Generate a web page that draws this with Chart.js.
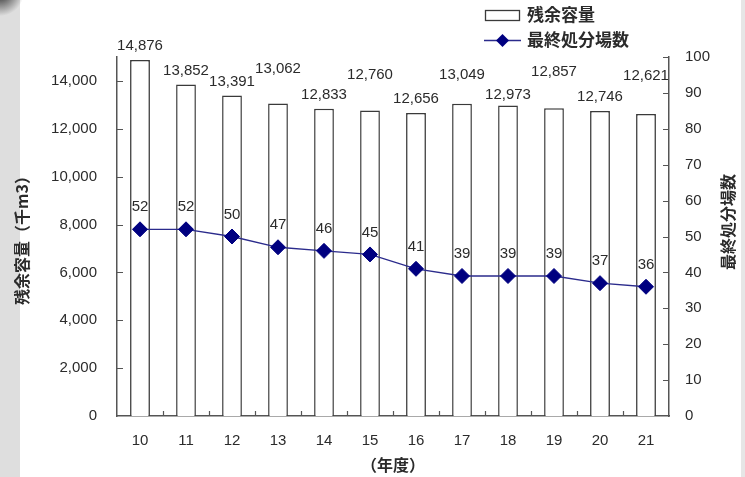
<!DOCTYPE html>
<html>
<head>
<meta charset="utf-8">
<script src="https://cdn.jsdelivr.net/npm/chart.js@4.4.0/dist/chart.umd.min.js"></script>
<style>
  html, body { margin: 0; padding: 0; background: #fff; }
  #wrap { position: relative; width: 745px; height: 477px; }
</style>
</head>
<body>
<div id="wrap"><canvas id="c" width="745" height="477"></canvas></div>
<script>
// 年度 (fiscal years)
const years = ['10', '11', '12', '13', '14', '15', '16', '17', '18', '19', '20', '21'];
// 残余容量 (千m3)
const remainingCapacity = [14876, 13852, 13391, 13062, 12833, 12760, 12656, 13049, 12973, 12857, 12746, 12621];
// 最終処分場数
const landfillCount = [52, 52, 50, 47, 46, 45, 41, 39, 39, 39, 37, 36];
// axis tick values
const capacityTicks = [0, 2000, 4000, 6000, 8000, 10000, 12000, 14000];
const countTicks = [0, 10, 20, 30, 40, 50, 60, 70, 80, 90, 100];
// extra lift (px) for staggered bar value labels
const barLabelRaise = [0, 0, 0, 21, 0, 22, 0, 15, -3, 22, 0, 24];

const TEXT = '#2b2b2b';
const AXIS = '#555';
const NUM_FONT = '15px "Liberation Sans", Arial, sans-serif';
const JP_FONT = 'bold 16px "Noto Sans CJK JP", sans-serif';

const fmt = v => v.toLocaleString('en-US');

const decor = {
  id: 'decor',
  beforeDraw(chart) {
    const ctx = chart.ctx;
    ctx.save();
    ctx.fillStyle = '#fff';
    ctx.fillRect(0, 0, chart.width, chart.height);
    // grey page margins
    ctx.fillStyle = '#dedede';
    ctx.fillRect(0, 0, 20, chart.height);
    ctx.fillStyle = '#e6e6e6';
    ctx.fillRect(741, 0, 4, chart.height);
    const g = ctx.createRadialGradient(0, -8, 2, 0, -8, 24);
    g.addColorStop(0, 'rgba(40,40,40,0.95)');
    g.addColorStop(1, 'rgba(40,40,40,0)');
    ctx.fillStyle = g;
    ctx.fillRect(0, 0, 30, 20);
    ctx.restore();
  },
  afterDatasetsDraw(chart) {
    const ctx = chart.ctx;
    const x = chart.scales.x, yl = chart.scales.y, yr = chart.scales.y1;
    const area = chart.chartArea;
    ctx.save();

    // inward tick marks
    ctx.strokeStyle = AXIS;
    ctx.lineWidth = 1.2;
    ctx.beginPath();
    capacityTicks.forEach(v => {
      if (v === 0) return;
      const py = Math.round(yl.getPixelForValue(v)) + 0.5;
      ctx.moveTo(area.left, py); ctx.lineTo(area.left + 6, py);
    });
    countTicks.forEach(v => {
      if (v === 0) return;
      const py = Math.round(yr.getPixelForValue(v)) + 0.5;
      ctx.moveTo(area.right, py); ctx.lineTo(area.right - 6, py);
    });
    for (let i = 0; i < years.length - 1; i++) {
      const px = Math.round((x.getPixelForValue(i) + x.getPixelForValue(i + 1)) / 2) + 0.5;
      ctx.moveTo(px, area.bottom); ctx.lineTo(px, area.bottom - 5);
    }
    ctx.stroke();

    // value labels
    ctx.fillStyle = TEXT;
    ctx.font = NUM_FONT;
    ctx.textAlign = 'center';
    ctx.textBaseline = 'middle';
    const barMeta = chart.getDatasetMeta(1);
    barMeta.data.forEach((bar, i) => {
      ctx.fillText(fmt(remainingCapacity[i]), bar.x, bar.y - 14 - barLabelRaise[i]);
    });
    const lineMeta = chart.getDatasetMeta(0);
    lineMeta.data.forEach((pt, i) => {
      ctx.fillText(String(landfillCount[i]), pt.x, pt.y - 22);
    });

    // axis titles
    ctx.font = JP_FONT;
    ctx.fillStyle = TEXT;
    ctx.save();
    ctx.translate(22, (area.top + area.bottom) / 2);
    ctx.rotate(-Math.PI / 2);
    ctx.fillText('残余容量（千m3）', 0, 0);
    ctx.restore();
    ctx.save();
    ctx.translate(728, 222);
    ctx.rotate(-Math.PI / 2);
    ctx.fillText(chart.data.datasets[0].label, 0, 0);
    ctx.restore();
    ctx.fillText('（年度）', (area.left + area.right) / 2, 465);

    // legend
    const bs = chart.data.datasets[1];
    const ls = chart.data.datasets[0];
    ctx.fillStyle = '#fff';
    ctx.strokeStyle = bs.borderColor;
    ctx.lineWidth = 1.3;
    ctx.fillRect(485, 10, 34, 10);
    ctx.strokeRect(485.5, 10.5, 34, 10);
    ctx.strokeStyle = ls.borderColor;
    ctx.lineWidth = 1.3;
    ctx.beginPath();
    ctx.moveTo(484, 40.5); ctx.lineTo(521, 40.5);
    ctx.stroke();
    ctx.fillStyle = ls.pointBackgroundColor;
    ctx.beginPath();
    ctx.moveTo(502.5, 34); ctx.lineTo(509, 40.5); ctx.lineTo(502.5, 47); ctx.lineTo(496, 40.5);
    ctx.closePath();
    ctx.fill();
    ctx.font = 'bold 17px "Noto Sans CJK JP", sans-serif';
    ctx.fillStyle = TEXT;
    ctx.textAlign = 'left';
    ctx.fillText(bs.label, 527, 15);
    ctx.fillText(ls.label, 527, 40);

    ctx.restore();
  }
};

new Chart(document.getElementById('c'), {
  data: {
    labels: years,
    datasets: [
      {
        type: 'line',
        label: '最終処分場数',
        data: landfillCount,
        yAxisID: 'y1',
        order: 0,
        borderColor: '#2b2b8c',
        borderWidth: 1.3,
        pointStyle: 'rectRot',
        pointRadius: 7.5,
        pointHoverRadius: 7.5,
        pointBackgroundColor: '#000080',
        pointBorderColor: '#000080',
        pointBorderWidth: 1,
        tension: 0
      },
      {
        type: 'bar',
        label: '残余容量',
        data: remainingCapacity,
        yAxisID: 'y',
        order: 1,
        backgroundColor: '#ffffff',
        borderColor: '#3a3a3a',
        borderWidth: 1.5,
        barPercentage: 0.43,
        categoryPercentage: 1.0
      }
    ]
  },
  options: {
    responsive: false,
    animation: false,
    layout: { padding: { top: 57, left: 0, right: 0, bottom: 0 } },
    plugins: { legend: { display: false }, tooltip: { enabled: false } },
    scales: {
      x: {
        offset: true,
        grid: { display: false, drawTicks: false },
        border: { display: true, color: AXIS, width: 1.5 },
        ticks: { color: TEXT, font: { family: '"Liberation Sans", Arial, sans-serif', size: 15 }, padding: 16, maxRotation: 0 },
        afterFit(s) { s.height = 61; }
      },
      y: {
        position: 'left',
        min: 0,
        max: 15000,
        grid: { display: false, drawTicks: false },
        border: { display: true, color: AXIS, width: 1.5 },
        afterBuildTicks(s) { s.ticks = capacityTicks.map(v => ({ value: v })); },
        ticks: { color: TEXT, font: { family: '"Liberation Sans", Arial, sans-serif', size: 15 }, padding: 20, callback: v => fmt(v) },
        afterFit(s) { s.width = 117; }
      },
      y1: {
        position: 'right',
        min: 0,
        max: 100,
        grid: { display: false, drawTicks: false },
        border: { display: true, color: AXIS, width: 1.5 },
        afterBuildTicks(s) { s.ticks = countTicks.map(v => ({ value: v })); },
        ticks: { color: TEXT, font: { family: '"Liberation Sans", Arial, sans-serif', size: 15 }, padding: 16 },
        afterFit(s) { s.width = 76; }
      }
    }
  },
  plugins: [decor]
});
</script>
</body>
</html>
